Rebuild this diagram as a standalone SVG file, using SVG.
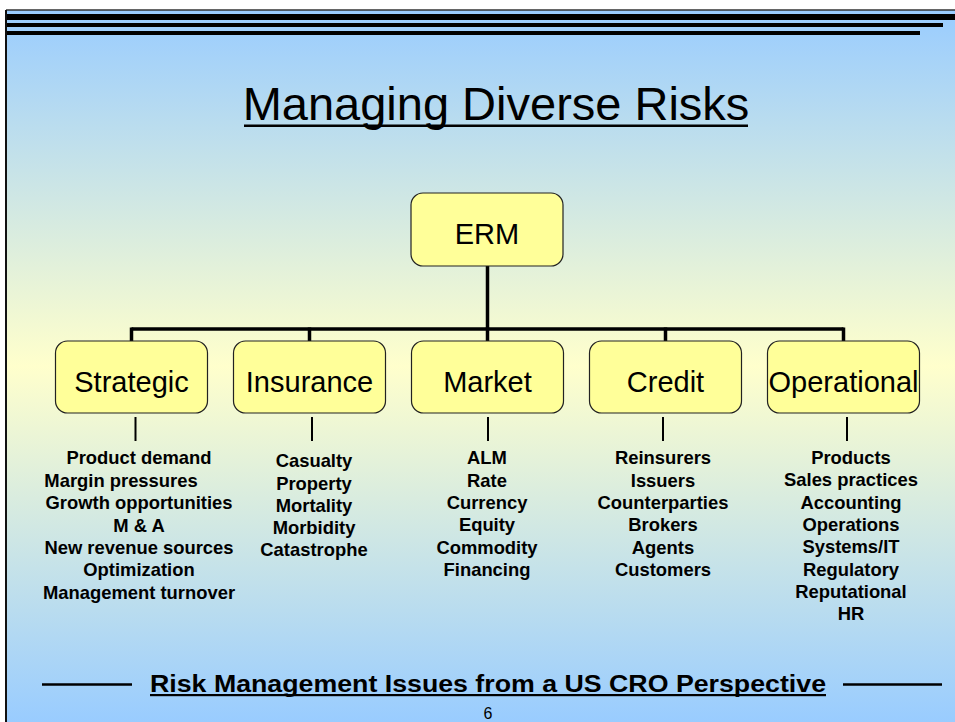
<svg xmlns="http://www.w3.org/2000/svg" width="955" height="722" viewBox="0 0 955 722">
  <defs>
    <linearGradient id="bg" x1="0" y1="10" x2="0" y2="722" gradientUnits="userSpaceOnUse">
      <stop offset="0" stop-color="#99CCFF"/>
      <stop offset="0.5" stop-color="#FFFFCC"/>
      <stop offset="1" stop-color="#99CCFF"/>
    </linearGradient>
  </defs>
  <style>
    .box { fill: #FFFF99; stroke: #222; stroke-width: 1.2; }
    .lbl { font-family: "Liberation Sans", Arial, sans-serif; font-size: 29px; fill: #000; text-anchor: middle; }
    .item { font-family: "Liberation Sans", Arial, sans-serif; font-size: 18.4px; font-weight: bold; fill: #000; text-anchor: middle; }
    .wire { stroke: #000; stroke-width: 3.5; fill: none; }
    .tick { stroke: #000; stroke-width: 2; }
  </style>

  <!-- page background -->
  <rect x="0" y="0" width="955" height="722" fill="#FFFFFF"/>
  <rect x="6" y="10" width="949" height="712" fill="url(#bg)"/>
  <line x1="6" y1="10" x2="955" y2="10" stroke="#333" stroke-width="1.5"/>
  <line x1="6" y1="10" x2="6" y2="722" stroke="#111" stroke-width="2"/>

  <!-- header rules -->
  <rect x="7" y="14" width="948" height="6" fill="#000"/>
  <rect x="7" y="23" width="936" height="4" fill="#000"/>
  <rect x="7" y="31" width="913" height="4" fill="#000"/>

  <!-- title -->
  <text x="496" y="120" font-family="'Liberation Sans', Arial, sans-serif" font-size="47" text-anchor="middle" fill="#000">Managing Diverse Risks</text>
  <rect x="244" y="124.5" width="504" height="2.5" fill="#000"/>

  <!-- connectors -->
  <g id="connectors">
    <line class="wire" x1="487.5" y1="266" x2="487.5" y2="329"/>
    <line class="wire" x1="131.5" y1="329" x2="843.5" y2="329"/>
    <line class="wire" x1="131.5" y1="327.5" x2="131.5" y2="341"/>
    <line class="wire" x1="309.5" y1="327.5" x2="309.5" y2="341"/>
    <line class="wire" x1="487.5" y1="327.5" x2="487.5" y2="341"/>
    <line class="wire" x1="665.5" y1="327.5" x2="665.5" y2="341"/>
    <line class="wire" x1="843.5" y1="327.5" x2="843.5" y2="341"/>
    <line class="tick" x1="135.5" y1="417" x2="135.5" y2="441"/>
    <line class="tick" x1="312" y1="417" x2="312" y2="441"/>
    <line class="tick" x1="488" y1="417" x2="488" y2="441"/>
    <line class="tick" x1="663" y1="417" x2="663" y2="441"/>
    <line class="tick" x1="847" y1="417" x2="847" y2="441"/>
  </g>

  <!-- root node -->
  <g id="erm">
    <rect class="box" x="411" y="193" width="152" height="73" rx="12"/>
    <text class="lbl" x="487" y="244">ERM</text>
  </g>

  <!-- category nodes -->
  <g id="strategic">
    <rect class="box" x="55.5" y="341" width="152" height="72" rx="12"/>
    <text class="lbl" x="131.5" y="392">Strategic</text>
    <text class="item" x="139" y="464">Product demand</text>
    <text class="item" x="121" y="486.5">Margin pressures</text>
    <text class="item" x="139" y="509">Growth opportunities</text>
    <text class="item" x="139" y="531.5">M &amp; A</text>
    <text class="item" x="139" y="554">New revenue sources</text>
    <text class="item" x="139" y="576">Optimization</text>
    <text class="item" x="139" y="598.5">Management turnover</text>
  </g>

  <g id="insurance">
    <rect class="box" x="233.5" y="341" width="152" height="72" rx="12"/>
    <text class="lbl" x="309.5" y="392">Insurance</text>
    <text class="item" x="314" y="467.3">Casualty</text>
    <text class="item" x="314" y="489.7">Property</text>
    <text class="item" x="314" y="511.7">Mortality</text>
    <text class="item" x="314" y="534">Morbidity</text>
    <text class="item" x="314" y="556">Catastrophe</text>
  </g>

  <g id="market">
    <rect class="box" x="411.5" y="341" width="152" height="72" rx="12"/>
    <text class="lbl" x="487.5" y="392">Market</text>
    <text class="item" x="487" y="464">ALM</text>
    <text class="item" x="487" y="486.5">Rate</text>
    <text class="item" x="487" y="509">Currency</text>
    <text class="item" x="487" y="531">Equity</text>
    <text class="item" x="487" y="553.5">Commodity</text>
    <text class="item" x="487" y="576">Financing</text>
  </g>

  <g id="credit">
    <rect class="box" x="589.5" y="341" width="152" height="72" rx="12"/>
    <text class="lbl" x="665.5" y="392">Credit</text>
    <text class="item" x="663" y="464">Reinsurers</text>
    <text class="item" x="663" y="486.5">Issuers</text>
    <text class="item" x="663" y="509">Counterparties</text>
    <text class="item" x="663" y="531">Brokers</text>
    <text class="item" x="663" y="553.5">Agents</text>
    <text class="item" x="663" y="576">Customers</text>
  </g>

  <g id="operational">
    <rect class="box" x="767.5" y="341" width="152" height="72" rx="12"/>
    <text class="lbl" x="843.5" y="392">Operational</text>
    <text class="item" x="851" y="464">Products</text>
    <text class="item" x="851" y="486.3">Sales practices</text>
    <text class="item" x="851" y="508.6">Accounting</text>
    <text class="item" x="851" y="530.9">Operations</text>
    <text class="item" x="851" y="553.2">Systems/IT</text>
    <text class="item" x="851" y="575.5">Regulatory</text>
    <text class="item" x="851" y="597.8">Reputational</text>
    <text class="item" x="851" y="620">HR</text>
  </g>

  <!-- footer -->
  <line x1="42" y1="684.5" x2="132" y2="684.5" stroke="#000" stroke-width="2.5"/>
  <line x1="843" y1="684.5" x2="942" y2="684.5" stroke="#000" stroke-width="2.5"/>
  <text x="488" y="691.5" font-family="'Liberation Sans', Arial, sans-serif" font-size="23" font-weight="bold" text-anchor="middle" textLength="676" lengthAdjust="spacingAndGlyphs" fill="#000">Risk Management Issues from a US CRO Perspective</text>
  <rect x="150" y="694" width="676" height="2.2" fill="#000"/>
  <text x="488" y="719" font-family="'Liberation Sans', Arial, sans-serif" font-size="16" text-anchor="middle" fill="#000">6</text>
</svg>
